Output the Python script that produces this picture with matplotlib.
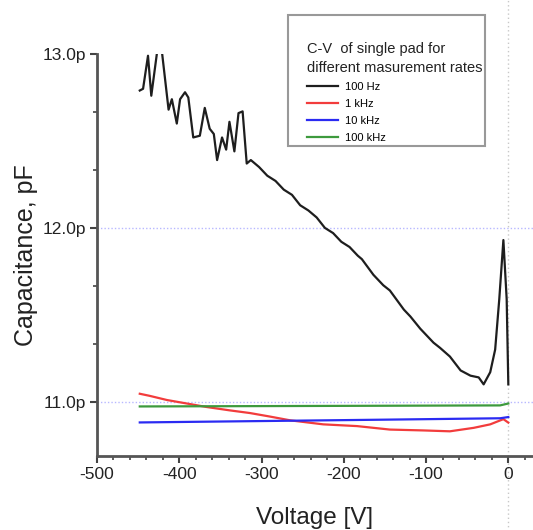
import matplotlib
matplotlib.use('Agg')
import matplotlib.pyplot as plt
from matplotlib.ticker import MultipleLocator, FuncFormatter
from matplotlib.patches import Rectangle

plt.rcParams['font.family'] = ['Liberation Sans', 'DejaVu Sans']
plt.rcParams['axes.unicode_minus'] = False

# 100 Hz
v_100hz = [-448, -444, -438, -434, -427, -421, -413, -409, -403, -399, -393, -389, -383, -375,
           -369, -363, -358, -354, -348, -343, -339, -333, -328, -323, -318, -313, -303, -293,
           -283, -273, -263, -253, -243, -233, -223, -213, -203, -193, -183, -178, -164, -152,
           -144, -127, -119, -107, -91, -83, -71, -58, -46, -36, -30, -22, -16, -11, -6, -2, 0]
c_100hz = [12.79, 12.80, 12.99, 12.76, 13.01, 13.01, 12.68, 12.74, 12.60, 12.74, 12.78, 12.75,
           12.52, 12.53, 12.69, 12.57, 12.54, 12.39, 12.52, 12.45, 12.61, 12.44, 12.66, 12.67,
           12.37, 12.39, 12.35, 12.30, 12.27, 12.22, 12.19, 12.13, 12.10, 12.06, 12.00, 11.97,
           11.92, 11.89, 11.84, 11.82, 11.73, 11.67, 11.64, 11.53, 11.49, 11.42, 11.34, 11.31,
           11.26, 11.18, 11.15, 11.14, 11.10, 11.17, 11.30, 11.59, 11.93, 11.59, 11.10]

# 1 kHz
v_1khz = [-448, -436, -415, -391, -367, -338, -314, -290, -265, -225, -184, -144, -103, -71,
          -42, -22, -6, 0]
c_1khz = [11.046, 11.034, 11.01, 10.99, 10.97, 10.95, 10.935, 10.915, 10.893, 10.87, 10.86,
          10.84, 10.835, 10.83, 10.85, 10.87, 10.90, 10.88]

# 10 kHz
v_10khz = [-448, -300, -150, -10, 0]
c_10khz = [10.881, 10.889, 10.897, 10.905, 10.912]

# 100 kHz
v_100khz = [-448, -300, -150, -10, 0]
c_100khz = [10.973, 10.975, 10.977, 10.979, 10.99]

series = [
    (v_100hz, c_100hz, '#1e1e1e', '100 Hz'),
    (v_1khz, c_1khz, '#f23c3c', '1 kHz'),
    (v_10khz, c_10khz, '#2b2bf2', '10 kHz'),
    (v_100khz, c_100khz, '#3d9a3d', '100 kHz'),
]

fig = plt.figure(figsize=(5.33, 5.30), dpi=100)
ax = fig.add_axes([97 / 533, 1 - 456 / 530, 1 - 97 / 533, (456 - 54) / 530])

for v, c, col, lab in series:
    ax.plot(v, c, color=col, lw=1.6, label=lab)

ax.set_xlim(-500, 30)
ax.set_ylim(10.688, 13.0)

for y in [11.0, 12.0]:
    ax.axhline(y, color='#b8b8ff', lw=1, ls=(0, (1, 1.5)), zorder=0)
ax.axvline(0, ymin=-0.2, ymax=1.2, color='#c8c8c8', lw=1, ls=(0, (1, 2)), clip_on=False, zorder=0)

ax.spines['top'].set_visible(False)
ax.spines['right'].set_visible(False)
for s in ['left', 'bottom']:
    ax.spines[s].set_color('#555555')
    ax.spines[s].set_linewidth(2)

ax.xaxis.set_major_locator(MultipleLocator(100))
ax.xaxis.set_minor_locator(MultipleLocator(20))
ax.yaxis.set_major_locator(MultipleLocator(1.0))
ax.yaxis.set_minor_locator(MultipleLocator(1 / 3))
ax.yaxis.set_major_formatter(FuncFormatter(lambda v, p: f'{v:.1f}p'))
ax.tick_params(which='major', direction='out', length=5, width=1.5, color='#444444',
               labelsize=12.5, labelcolor='#222222', pad=3)
ax.tick_params(which='minor', direction='out', length=3, width=1.2, color='#444444')

ax.set_xlabel('Voltage [V]', fontsize=17.5, color='#222222', labelpad=18)
ax.set_ylabel('Capacitance, pF', fontsize=18, color='#222222', labelpad=3)

leg = ax.legend(loc='upper left', bbox_to_anchor=(301 / 533, 1 - 36 / 530),
                bbox_transform=fig.transFigure, frameon=False, borderpad=0,
                fontsize=8, handlelength=2.8, handletextpad=0.7, labelspacing=0.64,
                title='C-V  of single pad for\ndifferent masurement rates',
                title_fontsize=10.5, alignment='left')
leg.get_title().set_linespacing(1.45)
leg.get_title().set_color('#222222')
leg._legend_handle_box.sep = 6

fig.patches.append(Rectangle((288 / 533, 1 - 146 / 530), (485 - 288) / 533, (146 - 15) / 530,
                             transform=fig.transFigure, fill=False, edgecolor='#999999', lw=1.5))

plt.savefig('out.png', dpi=100)
